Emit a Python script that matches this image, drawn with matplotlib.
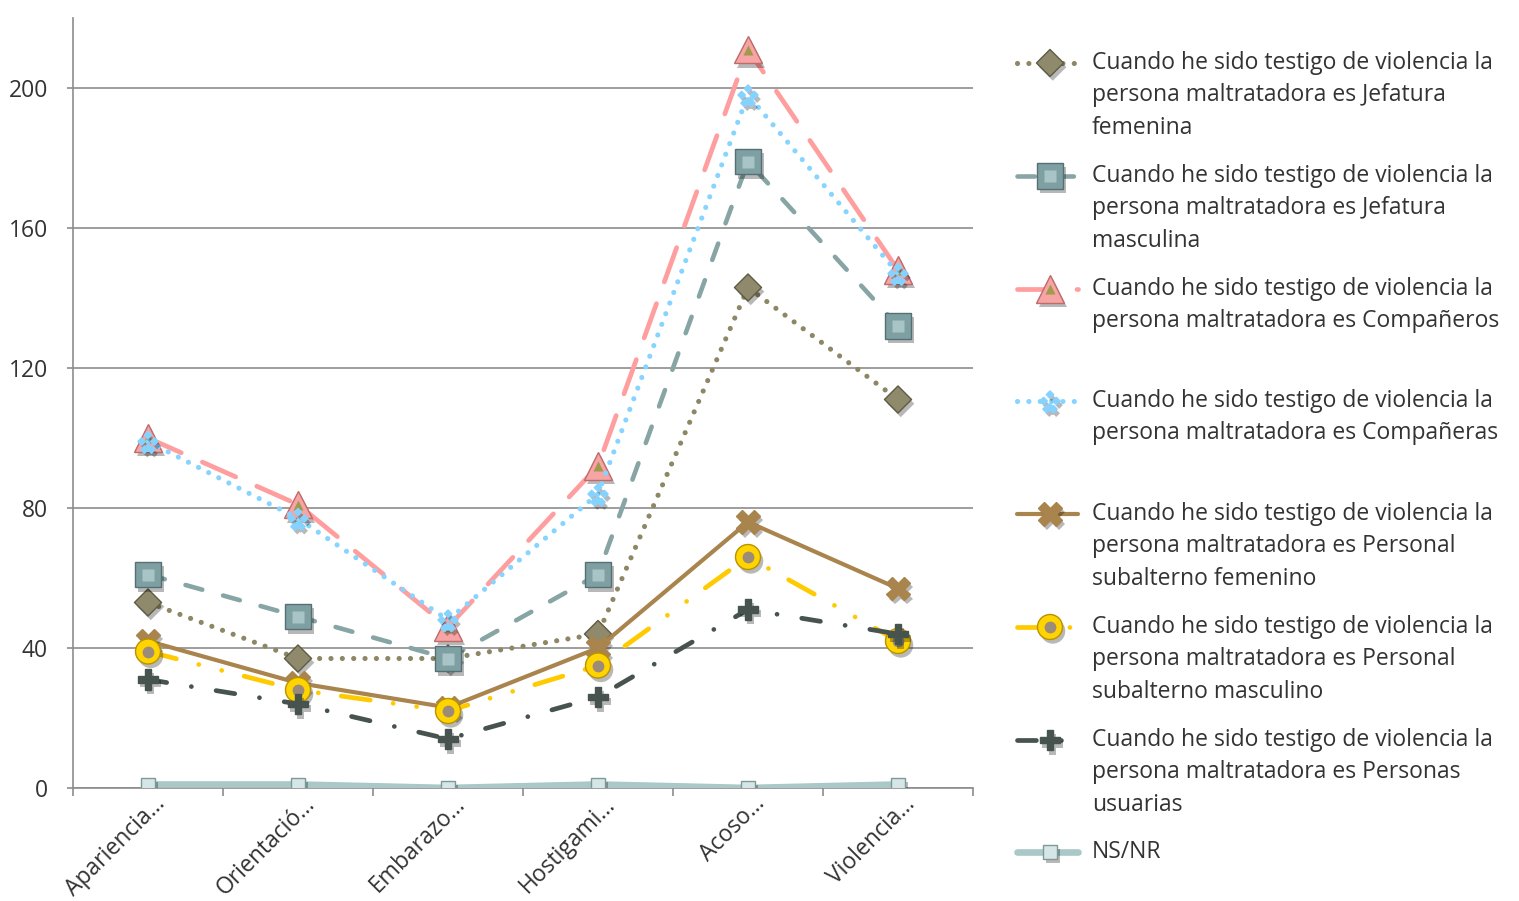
import matplotlib
matplotlib.use("Agg")
import matplotlib.pyplot as plt
import matplotlib.patheffects as pe
from matplotlib.path import Path
from matplotlib.lines import Line2D
from matplotlib.transforms import ScaledTranslation

plt.rcParams["font.family"] = ["Open Sans", "DejaVu Sans"]

# ---- data -------------------------------------------------------------
categories = ["Apariencia…", "Orientació…", "Embarazo…", "Hostigami…", "Acoso…", "Violencia…"]

jefatura_femenina = [53, 37, 37, 44, 143, 111]
jefatura_masculina = [61, 49, 37, 61, 179, 132]
companeros = [100, 81, 46, 92, 211, 148]
companeras = [99, 77, 48, 84, 198, 147]
subalterno_femenino = [42, 30, 23, 40, 76, 57]
subalterno_masculino = [39, 28, 22, 35, 66, 42]
personas_usuarias = [31, 24, 14, 26, 51, 44]
ns_nr = [1, 1, 0, 1, 0, 1]

series_labels = [
    "Cuando he sido testigo de violencia la\npersona maltratadora es Jefatura\nfemenina",
    "Cuando he sido testigo de violencia la\npersona maltratadora es Jefatura\nmasculina",
    "Cuando he sido testigo de violencia la\npersona maltratadora es Compañeros",
    "Cuando he sido testigo de violencia la\npersona maltratadora es Compañeras",
    "Cuando he sido testigo de violencia la\npersona maltratadora es Personal\nsubalterno femenino",
    "Cuando he sido testigo de violencia la\npersona maltratadora es Personal\nsubalterno masculino",
    "Cuando he sido testigo de violencia la\npersona maltratadora es Personas\nusuarias",
    "NS/NR",
]

y_ticks = [0, 40, 80, 120, 160, 200]

TEXT = "#333333"
FS = 16.5

# ---- marker shapes ------------------------------------------------------
diamond = Path([(0, 1), (1, 0), (0, -1), (-1, 0), (0, 1)],
               [Path.MOVETO, Path.LINETO, Path.LINETO, Path.LINETO, Path.CLOSEPOLY])


def cluster_path():
    verts, codes = [], []
    s = 0.32
    for cx, cy in [(0, 0.55), (-0.55, 0), (0.55, 0), (0, -0.55), (-0.3, -0.7), (0.3, -0.7)]:
        verts += [(cx, cy + s), (cx + s, cy), (cx, cy - s), (cx - s, cy), (cx, cy + s)]
        codes += [Path.MOVETO, Path.LINETO, Path.LINETO, Path.LINETO, Path.CLOSEPOLY]
    return Path(verts, codes)


cluster = cluster_path()

# ---- styles -------------------------------------------------------------
styles = [
    dict(color="#8E8765", lw=3.7, ls=(0, (0.01, 2.2)), marker=diamond, ms=19.5,
         mfc="#8F8A6C", mec="#5F5B45", inner=None),
    dict(color="#88A5A5", lw=3.3, ls=(0, (3.8, 4.7)), marker="s", ms=18.5,
         mfc="#7FA0A2", mec="#566F75", inner=dict(marker="s", ms=9, mfc="#A8C4C6", mec="none")),
    dict(color="#FF9E9E", lw=3.4, ls=(0, (7.7, 4.9)), marker="^", ms=20,
         mfc="#F6A4A4", mec="#C06A6A", inner=dict(marker="^", ms=7, mfc="#A09A4A", mec="none")),
    dict(color="#86D4FF", lw=3.7, ls=(0, (0.01, 2.2)), marker=cluster, ms=17,
         mfc="#86D2FF", mec="#86D2FF", inner=None),
    dict(color="#A9844D", lw=3.0, ls="-", marker="X", ms=17,
         mfc="#A9844D", mec="#A9844D", inner=None),
    dict(color="#FFCA00", lw=3.4, ls=(0, (6.2, 4.9, 0.01, 5.0, 0.01, 4.9)), marker="o", ms=18,
         mfc="#FFD400", mec="#B89200", inner=dict(marker="o", ms=8.5, mfc="#9B8B78", mec="none")),
    dict(color="#47534E", lw=3.4, ls=(0, (4.0, 5.3, 0.01, 5.3)), marker="P", ms=15,
         mfc="#47534E", mec="#47534E", inner=None),
    dict(color="#AAC8C8", lw=4.8, ls="-", marker="s", ms=10,
         mfc="#D6E6E6", mec="#7E9999", inner=None),
]

all_series = [jefatura_femenina, jefatura_masculina, companeros, companeras,
              subalterno_femenino, subalterno_masculino, personas_usuarias, ns_nr]

# ---- figure -------------------------------------------------------------
W, H = 1519, 901
fig = plt.figure(figsize=(W / 100, H / 100), dpi=100)
ax = fig.add_axes([73 / W, 113 / H, 900 / W, 770 / H])

x = list(range(len(categories)))
shadow = [pe.SimplePatchShadow(offset=(2, -3), alpha=0.28, shadow_rgbFace="#000000"), pe.Normal()]

for i, (vals, st) in enumerate(zip(all_series, styles)):
    z = 3 + i
    ax.plot(x, vals, color=st["color"], lw=st["lw"], linestyle=st["ls"],
            dash_capstyle="round", solid_capstyle="round", zorder=z)
    ax.plot(x, vals, linestyle="none", marker=st["marker"], ms=st["ms"],
            mfc=st["mfc"], mec=st["mec"], mew=1.0, zorder=z + 0.3, path_effects=shadow)
    if st["inner"]:
        inn = st["inner"]
        ax.plot(x, vals, linestyle="none", marker=inn["marker"], ms=inn["ms"],
                mfc=inn["mfc"], mec=inn["mec"], zorder=z + 0.5)

ax.set_xlim(-0.5, len(categories) - 0.5)
ax.set_ylim(0, 220)
ax.set_yticks(y_ticks)
ax.set_yticklabels([str(v) for v in y_ticks])
ax.yaxis.grid(True, color="#8C8C8C", lw=1.2, zorder=1)
ax.set_axisbelow(True)

for side in ("top", "right"):
    ax.spines[side].set_visible(False)
for side in ("left", "bottom"):
    ax.spines[side].set_color("#8C8C8C")
    ax.spines[side].set_linewidth(1.2)

ax.tick_params(axis="y", length=4.5, width=1.2, color="#8C8C8C", pad=13.5,
               labelsize=FS, labelcolor=TEXT)
ax.set_xticks(x)
ax.set_xticks([v - 0.5 for v in range(len(categories) + 1)], minor=True)
ax.tick_params(axis="x", which="major", length=0, pad=8, labelsize=FS, labelcolor=TEXT)
ax.tick_params(axis="x", which="minor", length=6, width=1.2, color="#8C8C8C")
ax.set_xticklabels(categories, rotation=45, ha="right", rotation_mode="anchor")
offset = ScaledTranslation(5 / 100, 7 / 100, fig.dpi_scale_trans)
for lbl in ax.get_xticklabels():
    lbl.set_transform(lbl.get_transform() + offset)

# ---- legend (drawn in figure pixel space) -------------------------------
lax = fig.add_axes([0, 0, 1, 1], facecolor="none")
lax.set_xlim(0, W)
lax.set_ylim(H, 0)
lax.axis("off")

entry_y = [63, 176, 289, 401, 514, 627, 740, 852]
for yy, st, label in zip(entry_y, styles, series_labels):
    lax.add_line(Line2D([1017, 1078], [yy, yy], color=st["color"], lw=st["lw"],
                        linestyle=st["ls"], dash_capstyle="round", solid_capstyle="round"))
    lax.add_line(Line2D([1050], [yy], linestyle="none", marker=st["marker"], ms=st["ms"],
                        mfc=st["mfc"], mec=st["mec"], mew=1.0, path_effects=shadow))
    if st["inner"]:
        inn = st["inner"]
        lax.add_line(Line2D([1050], [yy], linestyle="none", marker=inn["marker"], ms=inn["ms"],
                            mfc=inn["mfc"], mec=inn["mec"]))
    for k, line in enumerate(label.split("\n")):
        lax.text(1092, yy + k * 32.3, line, fontsize=FS, color=TEXT,
                 ha="left", va="center")

fig.savefig("out.png", dpi=100)
